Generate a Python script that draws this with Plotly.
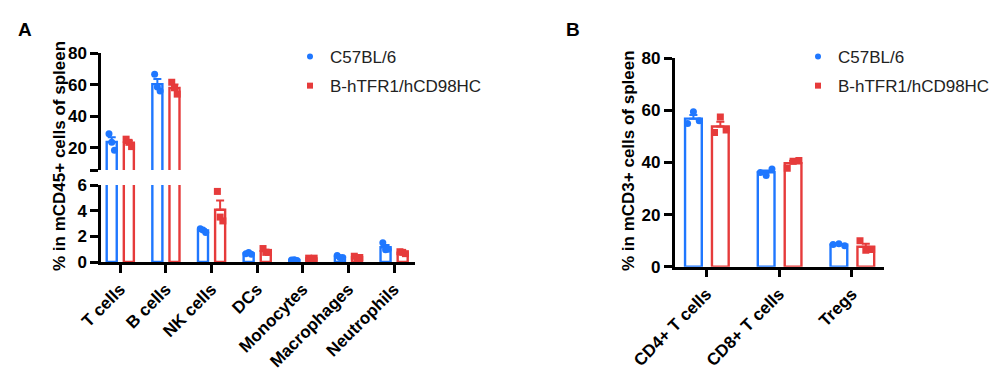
import numpy as np
import plotly.graph_objects as go

# ---------------- data ----------------
cats_a = ["T cells", "B cells", "NK cells", "DCs", "Monocytes", "Macrophages", "Neutrophils"]
wt_a = [[29.0, 23.5, 18.5], [66.5, 58.5, 56.0], [2.6, 2.5, 2.3], [0.65, 0.75, 0.6],
        [0.15, 0.18, 0.12], [0.5, 0.35, 0.35], [1.5, 0.95, 1.0]]
tg_a = [[25.5, 23.5, 20.8], [61.5, 58.0, 54.0], [5.5, 3.5, 3.2], [1.05, 0.75, 0.75],
        [0.3, 0.25, 0.3], [0.45, 0.35, 0.35], [0.8, 0.75, 0.65]]

cats_b = ["CD4+ T cells", "CD8+ T cells", "Tregs"]
wt_b = [[55.0, 59.5, 56.0], [36.2, 35.0, 37.5], [8.5, 8.8, 8.0]]
tg_b = [[51.5, 57.5, 52.5], [37.8, 40.5, 40.8], [10.0, 6.3, 6.6]]

upper_range_a = [6, 80]
lower_range_a = [0, 6]
upper_ticks_a = [6, 20, 40, 60, 80]
lower_ticks_a = [0, 2, 4, 6]
range_b = [0, 80]
ticks_b = [0, 20, 40, 60, 80]

series_names = ["C57BL/6", "B-hTFR1/hCD98HC"]

# ---------------- style ----------------
BLUE = "#1f77ff"
RED = "#e63b3b"
FONT = "Liberation Sans, Arial, sans-serif"
FS = 17
W = 1000
H = 375


def stats(groups):
    arr = [np.array(g, dtype=float) for g in groups]
    means = [a.mean() for a in arr]
    sems = [a.std(ddof=1) / np.sqrt(len(a)) for a in arr]
    return means, sems


fig = go.Figure()


def add_group(groups, color, symbol, offset, width, jit, xa, ya, yrange):
    means, sems = stats(groups)
    n = len(groups)
    xs = [i + offset for i in range(n)]
    lo, hi = yrange
    fig.add_trace(go.Bar(
        x=xs, y=means, width=width, xaxis=xa, yaxis=ya,
        marker=dict(color="white", line=dict(color=color, width=2.4)),
        showlegend=False, hoverinfo="skip"))
    # error bars (upper half) only where they lie inside this axis segment
    ex, ey, ee = [], [], []
    for x, m, s in zip(xs, means, sems):
        if m >= lo and m + s <= hi:
            ex.append(x)
            ey.append(m)
            ee.append(s)
    if ex:
        fig.add_trace(go.Scatter(
            x=ex, y=ey, mode="markers", xaxis=xa, yaxis=ya,
            marker=dict(size=0.1, color=color, opacity=0),
            error_y=dict(type="data", array=ee, arrayminus=[0] * len(ee), symmetric=False,
                         color=color, thickness=2, width=4),
            showlegend=False, hoverinfo="skip"))
    px, py = [], []
    for i, g in enumerate(groups):
        k = len(g)
        for j, v in enumerate(g):
            if lo <= v <= hi:
                px.append(i + offset + (j - (k - 1) / 2) * jit)
                py.append(v)
    fig.add_trace(go.Scatter(
        x=px, y=py, mode="markers", xaxis=xa, yaxis=ya,
        marker=dict(color=color, symbol=symbol, size=7, line=dict(width=0)),
        showlegend=False, hoverinfo="skip"))


# Panel A: upper (y) and lower (y2) segments share x
for ya, rng in [("y", upper_range_a), ("y2", lower_range_a)]:
    add_group(wt_a, BLUE, "circle", -0.185, 0.22, 0.06, "x", ya, rng)
    add_group(tg_a, RED, "square", 0.19, 0.22, 0.06, "x", ya, rng)

# Panel B
add_group(wt_b, BLUE, "circle", -0.18, 0.23, 0.08, "x2", "y3", range_b)
add_group(tg_b, RED, "square", 0.19, 0.23, 0.08, "x2", "y3", range_b)

# Legend entries
for lg, xa, ya in [("legend", "x", "y"), ("legend2", "x2", "y3")]:
    fig.add_trace(go.Scatter(x=[None], y=[None], mode="markers", xaxis=xa, yaxis=ya,
                             marker=dict(color=BLUE, symbol="circle", size=6),
                             name=series_names[0], legend=lg, legendgroup="g1"))
    fig.add_trace(go.Scatter(x=[None], y=[None], mode="markers", xaxis=xa, yaxis=ya,
                             marker=dict(color=RED, symbol="square", size=6),
                             name=series_names[1], legend=lg, legendgroup="g2"))


def ydom(top_px, bottom_px):
    return [(H - bottom_px) / H, (H - top_px) / H]


axis_common = dict(showline=True, linecolor="black", linewidth=2.5, ticks="outside",
                   ticklen=8, tickwidth=2.5, tickcolor="black", showgrid=False,
                   zeroline=False, automargin=False,
                   tickfont=dict(family=FONT, size=FS, color="black", weight="bold"))

legend_common = dict(xanchor="left", yanchor="top", bgcolor="rgba(0,0,0,0)",
                     font=dict(family=FONT, size=FS, color="#222"), itemwidth=30,
                     tracegroupgap=4)

fig.update_layout(
    width=W, height=H, margin=dict(l=0, r=0, t=0, b=0, autoexpand=False),
    paper_bgcolor="white", plot_bgcolor="white", barmode="overlay",
    font=dict(family=FONT, color="black"),
    xaxis=dict(domain=[101 / W, 415 / W], range=[-0.42, 6.46], anchor="y2",
               tickmode="array", tickvals=list(range(len(cats_a))), ticktext=cats_a,
               tickangle=-45, **axis_common),
    yaxis=dict(domain=ydom(53, 170), range=upper_range_a, anchor="x", tickmode="array",
               tickvals=upper_ticks_a,
               ticktext=["" if t == upper_ticks_a[0] else str(t) for t in upper_ticks_a],
               **axis_common),
    yaxis2=dict(domain=ydom(185, 262), range=lower_range_a, anchor="x", tickmode="array",
                tickvals=lower_ticks_a, ticktext=[str(t) for t in lower_ticks_a],
                **axis_common),
    xaxis2=dict(domain=[674.5 / W, 884 / W], range=[-0.44, 2.44], anchor="y3",
                tickmode="array", tickvals=list(range(len(cats_b))), ticktext=cats_b,
                tickangle=-45, **axis_common),
    yaxis3=dict(domain=ydom(58.3, 266.7), range=range_b, anchor="x2", tickmode="array",
                tickvals=ticks_b, ticktext=[str(t) for t in ticks_b], **axis_common),
    legend=dict(x=290 / W, y=(H - 39) / H, **legend_common),
    legend2=dict(x=798 / W, y=(H - 39) / H, **legend_common),
    annotations=[
        dict(text="<b>A</b>", x=25 / W, y=(H - 29) / H, xref="paper", yref="paper",
             xanchor="center", yanchor="middle", showarrow=False,
             font=dict(family=FONT, size=19, color="black")),
        dict(text="<b>B</b>", x=573 / W, y=(H - 29) / H, xref="paper", yref="paper",
             xanchor="center", yanchor="middle", showarrow=False,
             font=dict(family=FONT, size=19, color="black")),
        dict(text="<b>% in mCD45+ cells of spleen</b>", x=59 / W, y=(H - 156) / H,
             xref="paper", yref="paper", xanchor="center", yanchor="middle",
             showarrow=False, textangle=-90,
             font=dict(family=FONT, size=FS, color="black")),
        dict(text="<b>% in mCD3+ cells of spleen</b>", x=628 / W, y=(H - 161) / H,
             xref="paper", yref="paper", xanchor="center", yanchor="middle",
             showarrow=False, textangle=-90,
             font=dict(family=FONT, size=FS, color="black")),
    ],
)

fig.write_html("out.html", config={"displayModeBar": False},
               post_script="document.body.style.margin='0';document.body.style.padding='0';")
